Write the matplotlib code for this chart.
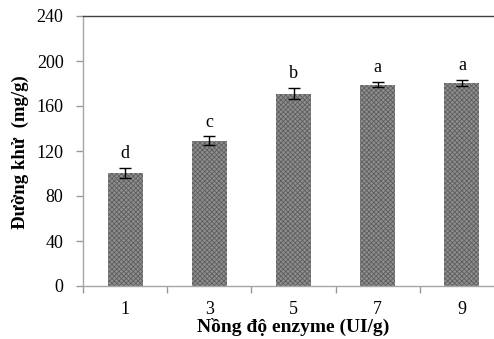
import matplotlib
matplotlib.use("Agg")
import matplotlib.pyplot as plt
import numpy as np

categories = ["1", "3", "5", "7", "9"]
values = [100.5, 129, 171, 179, 180.5]
errors = [4.5, 4, 5, 2.5, 3]
letters = ["d", "c", "b", "a", "a"]
yticks = [0, 40, 80, 120, 160, 200, 240]

plt.rcParams['font.family'] = ['Liberation Serif', 'DejaVu Serif']
plt.rcParams['hatch.linewidth'] = 0.6
plt.rcParams['hatch.color'] = '#5e5e5e'

fig = plt.figure(figsize=(4.94, 3.39), dpi=100)
ax = fig.add_axes([83/494, 1-286/339, (504-83)/494, (286-16)/339])

x = np.arange(len(categories))
ax.bar(x, values, width=0.415, color='#8e8e8e', hatch='xxxxxxx', linewidth=0, zorder=2)
ax.errorbar(x, values, yerr=errors, fmt='none', ecolor='black', elinewidth=1,
            capsize=4, capthick=1, zorder=3)
for xi, v, e, t in zip(x, values, errors, letters):
    ax.annotate(t, (xi, v + e), xytext=(0, 7), textcoords='offset points',
                ha='center', va='baseline', fontsize=13)

ax.set_xlim(-0.5, 4.5)
ax.set_ylim(0, 240)
ax.set_yticks(yticks)
ax.set_yticklabels([str(t) for t in yticks], fontsize=13)
ax.set_xticks(x)
ax.set_xticklabels(categories, fontsize=13)
ax.set_xticks(np.arange(-0.5, 5, 1), minor=True)
ax.tick_params(axis='x', which='major', length=0, pad=11)
ax.tick_params(axis='x', which='minor', length=5, color='#999999', width=1)
ax.tick_params(axis='y', length=5, color='#999999', width=1, pad=9)

for s in ['left', 'bottom']:
    ax.spines[s].set_color('#a6a6a6')
    ax.spines[s].set_linewidth(1)
ax.spines['top'].set_color('#404040')
ax.spines['top'].set_linewidth(1)
ax.spines['right'].set_visible(False)

ax.set_ylabel('Đường khử  (mg/g)', fontsize=13.5, fontweight='bold')
ax.yaxis.set_label_coords(-(83-20)/(504-83), (286-152)/(286-16))
ax.set_xlabel('Nồng độ enzyme (UI/g)', fontsize=14, fontweight='bold')
ax.xaxis.set_label_coords((293-83)/(504-83), -(327-286)/(286-16))
ax.xaxis.label.set_va('center')
ax.yaxis.label.set_va('center')

fig.savefig('out.png', dpi=100)
